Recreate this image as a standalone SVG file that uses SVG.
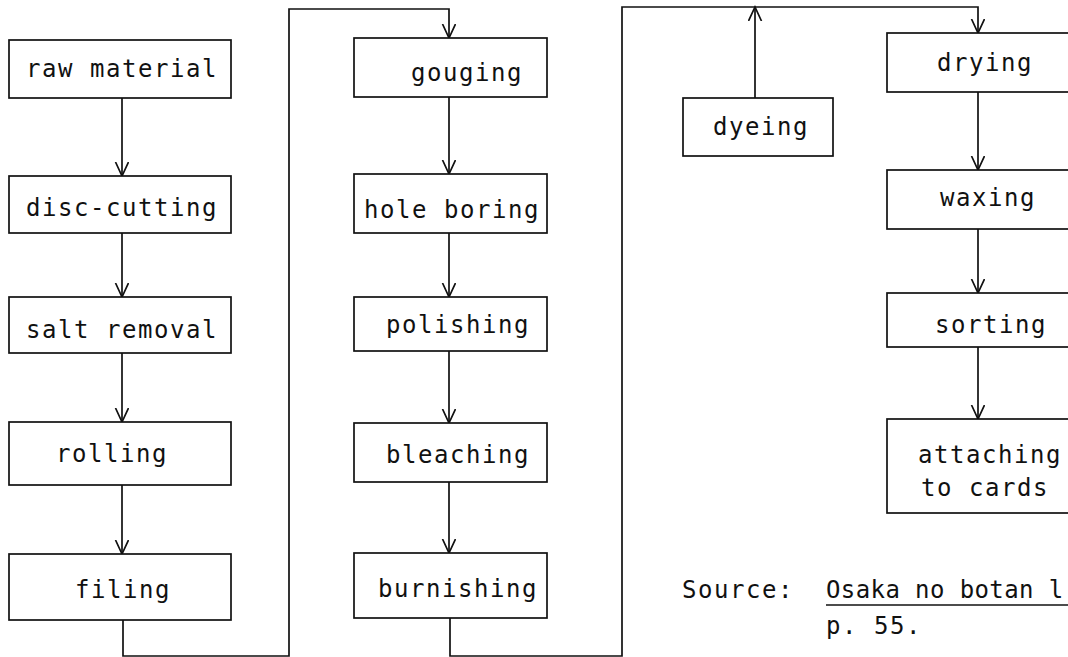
<svg xmlns="http://www.w3.org/2000/svg" width="1068" height="657" viewBox="0 0 1068 657">
<defs>
<style>
.box{fill:#fff;stroke:#111;stroke-width:1.7}
.t{font-family:"DejaVu Sans Mono","Liberation Mono",monospace;font-size:24px;letter-spacing:1.55px;fill:#111}
.c{fill:none;stroke:#111;stroke-width:1.7}
</style>
<marker id="arr" markerUnits="userSpaceOnUse" markerWidth="16" markerHeight="16" viewBox="0 0 16 16" refX="14" refY="7" orient="auto">
<path d="M0,0.5 L14,7 L0,13.5" fill="none" stroke="#111" stroke-width="1.7"/>
</marker>
</defs>
<rect width="1068" height="657" fill="#fff"/>
<g id="connectors">
<line class="c" x1="122" y1="98" x2="122" y2="176" marker-end="url(#arr)"/>
<line class="c" x1="122" y1="233" x2="122" y2="297" marker-end="url(#arr)"/>
<line class="c" x1="122" y1="353" x2="122" y2="422" marker-end="url(#arr)"/>
<line class="c" x1="122" y1="485" x2="122" y2="554" marker-end="url(#arr)"/>
<polyline class="c" points="123,620 123,656 289,656 289,9 449,9 449,38" marker-end="url(#arr)"/>
<line class="c" x1="449" y1="97" x2="449" y2="174" marker-end="url(#arr)"/>
<line class="c" x1="449" y1="233" x2="449" y2="297" marker-end="url(#arr)"/>
<line class="c" x1="449" y1="351" x2="449" y2="423" marker-end="url(#arr)"/>
<line class="c" x1="449" y1="482" x2="449" y2="553" marker-end="url(#arr)"/>
<polyline class="c" points="450,618 450,656 622,656 622,7 978,7 978,33" marker-end="url(#arr)"/>
<line class="c" x1="755" y1="98" x2="755" y2="7" marker-end="url(#arr)"/>
<line class="c" x1="978" y1="92" x2="978" y2="170" marker-end="url(#arr)"/>
<line class="c" x1="978" y1="229" x2="978" y2="293" marker-end="url(#arr)"/>
<line class="c" x1="978" y1="347" x2="978" y2="419" marker-end="url(#arr)"/>
</g>
<g id="raw-material"><rect class="box" x="9" y="40" width="222" height="58"/><text class="t" x="26" y="77">raw material</text></g>
<g id="disc-cutting"><rect class="box" x="9" y="176" width="222" height="57"/><text class="t" x="26" y="216">disc-cutting</text></g>
<g id="salt-removal"><rect class="box" x="9" y="297" width="222" height="56"/><text class="t" x="26" y="338">salt removal</text></g>
<g id="rolling"><rect class="box" x="9" y="422" width="222" height="63"/><text class="t" x="56" y="462">rolling</text></g>
<g id="filing"><rect class="box" x="9" y="554" width="222" height="66"/><text class="t" x="75" y="598">filing</text></g>
<g id="gouging"><rect class="box" x="354" y="38" width="193" height="59"/><text class="t" x="411" y="81">gouging</text></g>
<g id="hole-boring"><rect class="box" x="354" y="174" width="193" height="59"/><text class="t" x="364" y="218">hole boring</text></g>
<g id="polishing"><rect class="box" x="354" y="297" width="193" height="54"/><text class="t" x="386" y="333">polishing</text></g>
<g id="bleaching"><rect class="box" x="354" y="423" width="193" height="59"/><text class="t" x="386" y="463">bleaching</text></g>
<g id="burnishing"><rect class="box" x="354" y="553" width="193" height="65"/><text class="t" x="378" y="597">burnishing</text></g>
<g id="dyeing"><rect class="box" x="683" y="98" width="150" height="58"/><text class="t" x="713" y="135">dyeing</text></g>
<g id="drying"><rect class="box" x="887" y="33" width="200" height="59"/><text class="t" x="937" y="71">drying</text></g>
<g id="waxing"><rect class="box" x="887" y="170" width="200" height="59"/><text class="t" x="940" y="206">waxing</text></g>
<g id="sorting"><rect class="box" x="887" y="293" width="200" height="54"/><text class="t" x="935" y="333">sorting</text></g>
<g id="attaching"><rect class="box" x="887" y="419" width="200" height="94"/><text class="t" x="918" y="463">attaching</text><text class="t" x="921" y="496">to cards</text></g>
<g id="source">
<text class="t" x="682" y="598">Source:</text>
<text class="t" x="826" y="598" style="letter-spacing:0.4px">Osaka no botan l</text>
<line x1="826" y1="605" x2="1068" y2="605" stroke="#111" stroke-width="1.7"/>
<text class="t" x="826" y="634">p. 55.</text>
</g>
</svg>
